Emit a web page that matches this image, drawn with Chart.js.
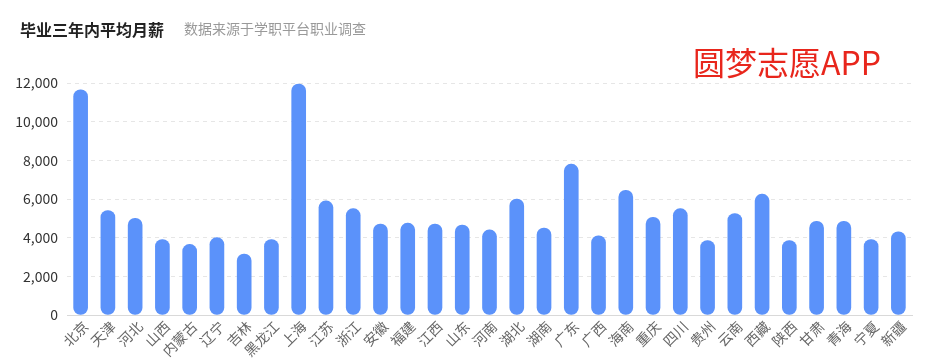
<!DOCTYPE html>
<html>
<head>
<meta charset="utf-8">
<script src="https://cdn.jsdelivr.net/npm/chart.js@4"></script>
<style>
	body { margin: 0; background: #fff; font-family: "Noto Sans CJK SC", "Noto Sans", sans-serif; }
	#wrap { position: relative; width: 938px; height: 359px; }
	#title { position: absolute; left: 20px; top: 17px; font-size: 16px; font-weight: bold; color: #222; }
	#sub { position: absolute; left: 184px; top: 18px; font-size: 14px; color: #999; }
	#mark { position: absolute; left: 693px; top: 38px; font-size: 32px; color: #e8261c; }
	canvas { position: absolute; left: 0; top: 0; }
</style>
</head>
<body>
<div id="wrap">
	<canvas id="chart" width="938" height="359"></canvas>
	<div id="title">毕业三年内平均月薪</div>
	<div id="sub">数据来源于学职平台职业调查</div>
	<div id="mark">圆梦志愿APP</div>
</div>
<script>
const provinces = ["北京", "天津", "河北", "山西", "内蒙古", "辽宁", "吉林", "黑龙江", "上海", "江苏", "浙江", "安徽", "福建", "江西", "山东", "河南", "湖北", "湖南", "广东", "广西", "海南", "重庆", "四川", "贵州", "云南", "西藏", "陕西", "甘肃", "青海", "宁夏", "新疆"];
const salary = [11650, 5400, 5000, 3900, 3650, 4000, 3150, 3900, 11950, 5900, 5500, 4700, 4750, 4700, 4650, 4400, 6000, 4500, 7800, 4100, 6450, 5050, 5500, 3850, 5250, 6250, 3850, 4850, 4850, 3900, 4300];
const yTicks = [0, 2000, 4000, 6000, 8000, 10000, 12000];

new Chart(document.getElementById("chart"), {
	type: "bar",
	data: {
		labels: provinces,
		datasets: [
			{
				label: "平均月薪",
				data: salary,
				backgroundColor: "#5b92fa",
				barThickness: 14,
				borderRadius: 7,
				borderSkipped: false,
			},
		],
	},
	options: {
		responsive: false,
		animation: false,
		layout: {
			padding: { top: 83, right: 26, left: 0, bottom: 0 },
		},
		plugins: {
			legend: { display: false },
			tooltip: { enabled: false },
		},
		scales: {
			x: {
				grid: { display: false, drawTicks: false },
				border: { color: "#d9d9d9" },
				ticks: {
					color: "#666",
					minRotation: 45,
					maxRotation: 45,
					autoSkip: false,
					padding: 3,
					labelOffset: 5,
					font: { family: "Noto Sans CJK SC", size: 14 },
				},
				afterFit: (scale) => { scale.height = 44; },
			},
			y: {
				min: 0,
				max: 12000,
				afterBuildTicks: (scale) => { scale.ticks = yTicks.map((v) => ({ value: v })); },
				grid: { color: "#e6e6e6", drawTicks: false },
				border: { display: false, dash: [4, 4] },
				ticks: {
					color: "#333",
					padding: 9,
					font: { family: "Noto Sans CJK SC", size: 14 },
					callback: (v) => v.toLocaleString("en-US"),
				},
				afterFit: (scale) => { scale.width = 67; },
			},
		},
	},
});
</script>
</body>
</html>
